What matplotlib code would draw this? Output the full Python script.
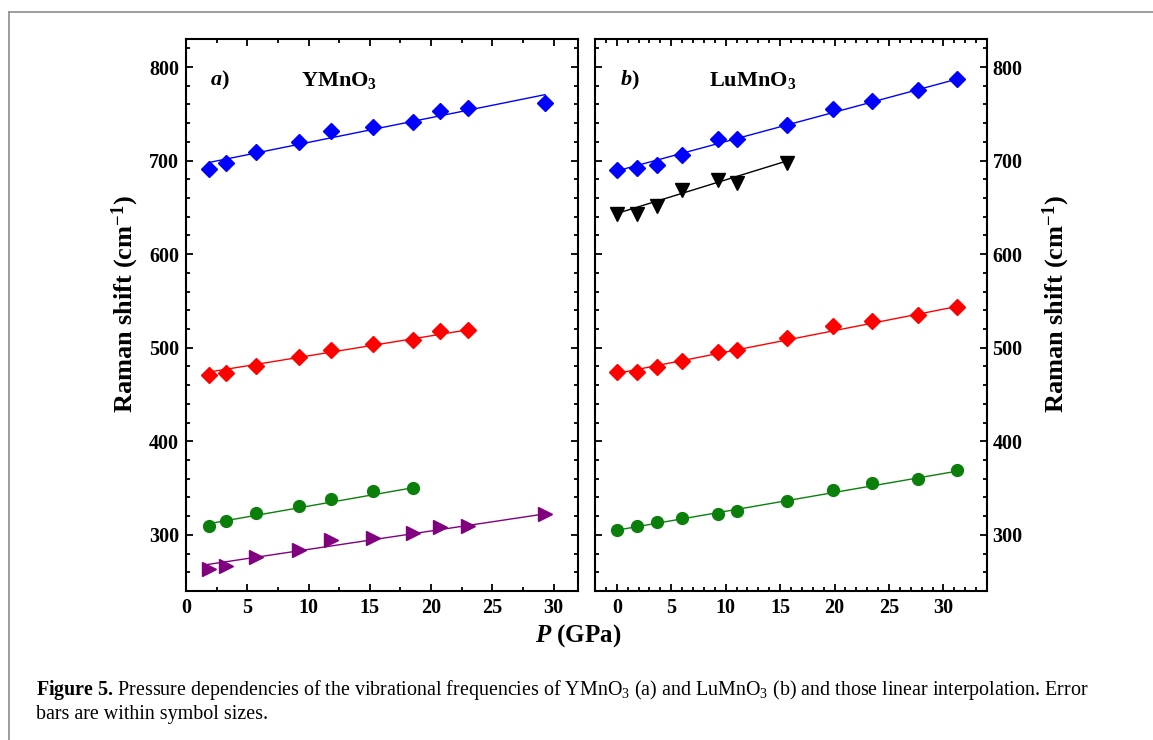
import matplotlib
matplotlib.use('Agg')
import matplotlib.pyplot as plt
from matplotlib.lines import Line2D
from matplotlib.ticker import MultipleLocator

plt.rcParams['font.family'] = 'Liberation Serif'
plt.rcParams['font.weight'] = 'bold'
plt.rcParams['font.size'] = 14.5
plt.rcParams['mathtext.fontset'] = 'custom'
plt.rcParams['mathtext.rm'] = 'Liberation Serif:regular'
plt.rcParams['mathtext.it'] = 'Liberation Serif:italic:regular'
plt.rcParams['mathtext.bf'] = 'Liberation Serif:bold'
plt.rcParams['mathtext.bfit'] = 'Liberation Serif:italic:bold'

# a) YMnO3
P_a = [1.87, 3.3, 5.7, 9.2, 11.8, 15.3, 18.5, 20.7, 23.0, 29.3]
blue_a = [691, 697, 709, 720, 732, 736, 741, 753, 756, 761.5]
red_a = [471, 473.5, 481, 490, 497.5, 504, 508, 518, 518.5]
green_a = [310, 315, 323, 331, 338, 347, 350.5]
purple_a = [263.5, 267, 276.5, 284, 294, 297, 302, 308.5, 309, 322.5]

# b) LuMnO3
P_b = [0, 1.9, 3.65, 6.0, 9.3, 11.0, 15.6, 19.9, 23.45, 27.7, 31.2]
blue_b = [690.5, 692.5, 695.5, 706, 723, 723, 738, 755, 764, 776, 787]
black_b = [643, 643, 652, 669, 679.5, 676.5, 697.5]
red_b = [474, 474.5, 479, 486, 495, 497.5, 510, 523, 528.5, 535, 544]
green_b = [305.5, 309.5, 313.5, 318, 322.5, 325.5, 336.5, 348, 355, 360, 369.5]

# linear fits (end points)
fit_a = {
    'blue': ([1.87, 29.3], [698, 770.5]),
    'red': ([1.87, 23.4], [474, 520]),
    'green': ([1.87, 18.8], [312, 351]),
    'purple': ([1.6, 29.6], [268, 323]),
}
fit_b = {
    'blue': ([0, 31.2], [689, 787]),
    'black': ([0, 16.0], [643.5, 701]),
    'red': ([0, 31.2], [472.5, 544]),
    'green': ([0, 31.2], [305, 368]),
}

c_blue = '#0000ff'
c_red = '#ff0000'
c_green = '#0a800a'
c_purple = '#800080'
c_black = '#000000'

W, H = 1153, 740
fig = plt.figure(figsize=(W/100, H/100), dpi=100)
ax1 = fig.add_axes([186/W, 1-591/H, 392/W, 552/H])
ax2 = fig.add_axes([595/W, 1-591/H, 392/W, 552/H])

# panel a
ax1.plot(*fit_a['blue'], color=c_blue, lw=1)
ax1.plot(*fit_a['red'], color=c_red, lw=1)
ax1.plot(*fit_a['green'], color=c_green, lw=1)
ax1.plot(*fit_a['purple'], color=c_purple, lw=1)
ax1.plot(P_a, blue_a, 'D', color=c_blue, ms=8.5, ls='none')
ax1.plot(P_a[:len(red_a)], red_a, 'D', color=c_red, ms=8.5, ls='none')
ax1.plot(P_a[:len(green_a)], green_a, 'o', color=c_green, ms=8.5, ls='none')
ax1.plot(P_a, purple_a, '>', color=c_purple, ms=9.5, ls='none')

# panel b
ax2.plot(*fit_b['blue'], color=c_blue, lw=1)
ax2.plot(*fit_b['black'], color=c_black, lw=1)
ax2.plot(*fit_b['red'], color=c_red, lw=1)
ax2.plot(*fit_b['green'], color=c_green, lw=1)
ax2.plot(P_b, blue_b, 'D', color=c_blue, ms=8.5, ls='none')
ax2.plot(P_b[:len(black_b)], black_b, 'v', color=c_black, ms=9.5, ls='none')
ax2.plot(P_b, red_b, 'D', color=c_red, ms=8.5, ls='none')
ax2.plot(P_b, green_b, 'o', color=c_green, ms=8.5, ls='none')

ax1.set_xlim(0, 32)
ax2.set_xlim(-2, 34)
for ax in (ax1, ax2):
    ax.set_ylim(240, 830)
    ax.xaxis.set_major_locator(MultipleLocator(5))
    ax.yaxis.set_major_locator(MultipleLocator(100))
    ax.yaxis.set_minor_locator(MultipleLocator(20))
    ax.tick_params(which='both', direction='in', top=True, right=True, width=1.3,
                   labelsize=14.5, pad=5)
    ax.tick_params(which='major', length=5)
    ax.tick_params(which='minor', length=3)
    for s in ax.spines.values():
        s.set_linewidth(1.5)
ax1.xaxis.set_minor_locator(MultipleLocator(2.5))
ax2.xaxis.set_minor_locator(MultipleLocator(1))
ax2.tick_params(axis='y', labelleft=False, labelright=True, pad=4)

ylab = r'Raman shift (cm$^{\mathbf{-1}}$)'
fig.text(125/W, 1-304/H, ylab, fontsize=19, rotation=90, ha='center', va='center')
fig.text(1056/W, 1-304/H, ylab, fontsize=19, rotation=90, ha='center', va='center')

fig.text(578/W, 1-636/H, r'$\mathbfit{P}$ (GPa)', fontsize=18, ha='center', va='center')

ax1.text(0.062, 0.915, r'$\mathbfit{a}$)', transform=ax1.transAxes, fontsize=16)
ax1.text(0.294, 0.915, r'YMnO$_{\mathbf{3}}$', transform=ax1.transAxes, fontsize=16)
ax2.text(0.063, 0.915, r'$\mathbfit{b}$)', transform=ax2.transAxes, fontsize=16)
ax2.text(0.292, 0.915, r'LuMnO$_{\mathbf{3}}$', transform=ax2.transAxes, fontsize=16)

# caption
fig.text(36/W, 1-690/H,
         r'$\mathbf{Figure\ 5.}\,$Pressure dependencies of the vibrational frequencies of YMnO$_3$ (a) '
         r'and LuMnO$_3$ (b) and those linear interpolation. Error',
         fontsize=14.4, fontweight='normal', ha='left', va='center')
fig.text(36/W, 1-714/H, 'bars are within symbol sizes.', fontsize=14.4, fontweight='normal',
         ha='left', va='center')

# page frame
fig.add_artist(Line2D([9/W, 1], [1-12/H, 1-12/H], color='#8c8c8c', lw=1.2))
fig.add_artist(Line2D([9/W, 9/W], [0, 1-12/H], color='#8c8c8c', lw=1.2))

plt.savefig('out.png', dpi=100)
